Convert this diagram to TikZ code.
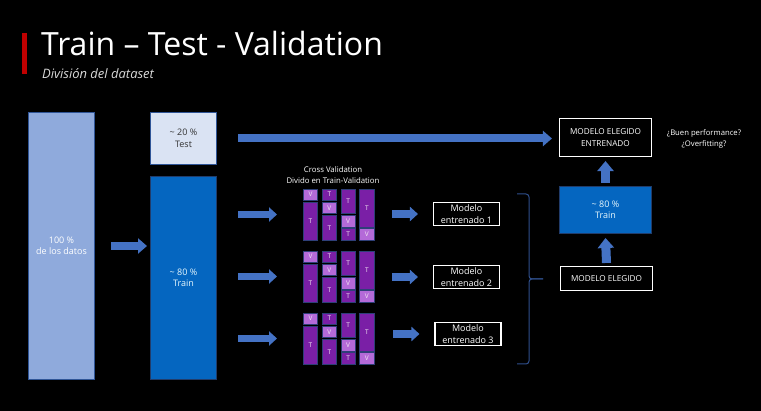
\documentclass[tikz,border=0pt]{standalone}
\usepackage{fontspec}
\setmainfont{Open Sans}
\usetikzlibrary{arrows.meta,calc}

\definecolor{datafill}{HTML}{8FAADC}
\definecolor{testfill}{HTML}{DAE3F3}
\definecolor{trainfill}{HTML}{0566C0}
\definecolor{edgeblue}{HTML}{2F5597}
\definecolor{arrowblue}{HTML}{4472C4}
\definecolor{tfill}{HTML}{7A1FA6}
\definecolor{vfill}{HTML}{B46AD8}
\definecolor{celledge}{HTML}{2E3F78}
\definecolor{bracecol}{HTML}{2F4F8C}
\definecolor{accent}{HTML}{C00000}

% one cell of a cross-validation column: spans slots #4..#5 of the group starting at #3
\newcommand\cvcell[7]{%
  \pgfmathsetmacro\cvh{13.25*((#5)-(#4))-1.8}%
  \pgfmathsetmacro\cvy{#3+13.25*((#4)+(#5))/2}%
  \node[#6, minimum height=\cvh pt] (#1) at (#2,\cvy) {#7};%
}

\begin{document}
\begin{tikzpicture}[x=1pt,y=-1pt,
  every node/.style={text=white, font=\fontsize{9}{11.5}\selectfont},
  block/.style={draw=#1, line width=0.7pt, inner sep=0pt, align=center},
  whitebox/.style={draw=white, line width=1.1pt, fill=black, inner sep=0pt, align=center},
  tcell/.style={draw=celledge, line width=0.6pt, fill=tfill, minimum width=14.4pt, inner sep=0pt,
    font=\fontsize{6.5}{7}\selectfont, text=white!90!violet},
  vcell/.style={tcell, fill=vfill},
  bigarrow/.style={draw=arrowblue, line width=8pt, -{Triangle[width=15pt,length=9pt]}},
  smallarrow/.style={draw=arrowblue, line width=7.5pt, -{Triangle[width=14pt,length=8pt]}},
  uparrow/.style={draw=arrowblue, line width=9pt, -{Triangle[width=16pt,length=10pt]}},
  bracepath/.style={draw=bracecol, line width=1pt, rounded corners=3pt},
]
% canvas
\fill[black] (0,0) rectangle (761,411);
\useasboundingbox (0,0) rectangle (761,411);

% heading
\fill[accent] (22,33) rectangle (27,74);
\node[anchor=base west, inner sep=0pt, font=\fontsize{32}{35}\selectfont] (title) at (41,56)
  {Train – Test - Validation};
\node[anchor=base west, inner sep=0pt, font=\itshape\fontsize{13}{15}\selectfont, text=white!85!black]
  (subtitle) at (42,79) {División del dataset};

% data split
\node[block=edgeblue, fill=datafill, minimum width=66.3pt, minimum height=267.3pt] (data) at (61.5,246)
  {100 \%\\de los datos};
\node[block=edgeblue, fill=testfill, minimum width=66.3pt, minimum height=52.3pt, text=black!80] (test)
  at (183.5,138.5) {\textasciitilde{} 20 \%\\Test};
\node[block=edgeblue!70!black, fill=trainfill, minimum width=66.3pt, minimum height=203.3pt, text=white!90!cyan]
  (train) at (183.5,278) {\textasciitilde{} 80 \%\\Train};

% cross validation
\node[align=center, font=\fontsize{7.8}{11}\selectfont, inner sep=0pt] (cvtitle) at (333,175.5)
  {Cross Validation\\Divido en Train-Validation};
\foreach \g/\gy in {1/188,2/250,3/312}{
  \coordinate (grp\g) at (339,\gy+26.5);
  \foreach \c in {1,...,4}{
    \pgfmathsetmacro\cx{310.5+18.8*(\c-1)}
    \cvcell{g\g-\c-v}{\cx}{\gy}{\c-1}{\c}{vcell}{V}
    \ifnum\c>1 \cvcell{g\g-\c-a}{\cx}{\gy}{0}{\c-1}{tcell}{T}\fi
    \ifnum\c<4 \cvcell{g\g-\c-b}{\cx}{\gy}{\c}{4}{tcell}{T}\fi
  }
}

% trained models
\node[whitebox, minimum width=66pt, minimum height=23pt] (m1) at (466.5,214) {Modelo\\entrenado 1};
\node[whitebox, minimum width=66pt, minimum height=23pt] (m2) at (466.5,277) {Modelo\\entrenado 2};
\node[whitebox, minimum width=66pt, minimum height=23pt] (m3) at (468,334) {Modelo\\entrenado 3};

% final stage
\node[whitebox, minimum width=92pt, minimum height=38pt, font=\fontsize{8.2}{11.5}\selectfont] (final)
  at (605.5,137.5) {MODELO ELEGIDO\\ENTRENADO};
\node[block=edgeblue!70!black, fill=trainfill, minimum width=92.3pt, minimum height=47.3pt, text=white!90!cyan]
  (trainB) at (605.5,210) {\textasciitilde{} 80 \%\\Train};
\node[whitebox, minimum width=92pt, minimum height=24pt, font=\fontsize{8.2}{11.5}\selectfont] (chosen)
  at (606.5,278.5) {MODELO ELEGIDO};
\node[align=center, font=\fontsize{7.7}{11}\selectfont, inner sep=0pt] (quest) at (704,138.5)
  {¿Buen performance?\\¿Overfitting?};

% arrows
\draw[bigarrow] ([xshift=16pt]data.east) -- ([xshift=-3pt]data.east -| train.west);
\draw[bigarrow] ([xshift=21pt]test.east) -- ([xshift=-7pt]final.west |- test.east);
\foreach \g in {1,2,3}{
  \draw[smallarrow] ([xshift=21pt]train.east |- grp\g) -- ([xshift=60pt]train.east |- grp\g);
  \draw[smallarrow] ([xshift=-41pt]m\g.west) -- ([xshift=-15pt]m\g.west);
}
\draw[uparrow] ($(chosen.north)+(0,-3)$) -- ($(trainB.south)+(0,4)$);
\draw[uparrow] ($(trainB.north)+(0,-3)$) -- ($(final.south)+(0,4)$);

% brace gathering the trained models
\coordinate (braceTop) at (517,194);
\coordinate (braceBot) at (517,364);
\coordinate (braceTip) at (543,279);
\path[bracepath] (braceTop) -| (529,279) -- (braceTip);
\path[bracepath] (braceBot) -| (529,279) -- (braceTip);
\end{tikzpicture}
\end{document}
